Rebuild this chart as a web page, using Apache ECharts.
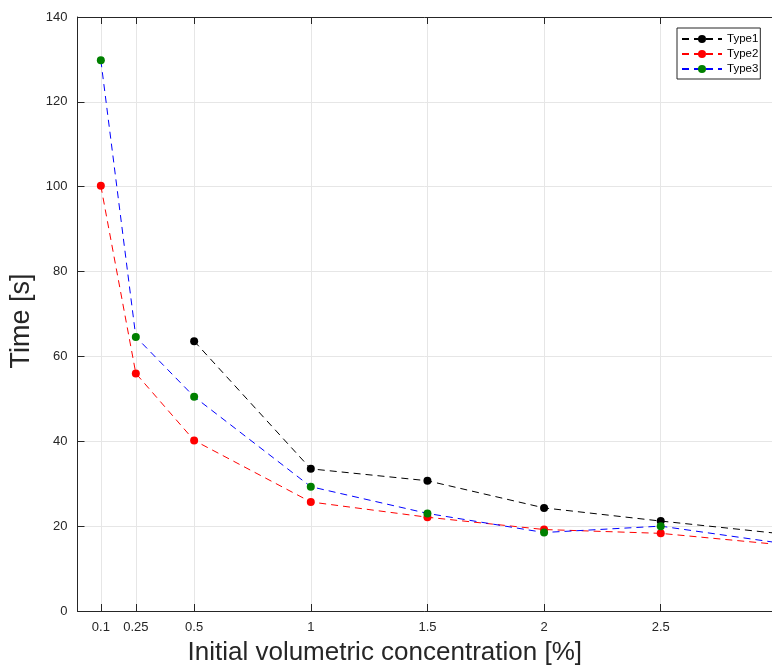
<!DOCTYPE html>
<html>
<head>
<meta charset="utf-8">
<script src="https://cdn.jsdelivr.net/npm/echarts@6/dist/echarts.min.js"></script>
<style>html,body{margin:0;padding:0;background:#fff}#c{width:772px;height:666px}</style>
</head>
<body>
<div id="c"></div>
<script>
var xValues = [0.1, 0.25, 0.5, 1, 1.5, 2, 2.5, 3];
var type1 = [null, null, 63.6, 33.5, 30.7, 24.3, 21.2, 18.3];
var type2 = [100.2, 56.0, 40.2, 25.7, 22.1, 19.2, 18.3, 15.7];
var type3 = [129.8, 64.6, 50.5, 29.3, 23.0, 18.5, 20.0, 16.1];
var xTicks = [0.1, 0.25, 0.5, 1, 1.5, 2, 2.5];
var seriesNames = ['Type1', 'Type2', 'Type3'];

function pairs(ys) {
  var out = [];
  for (var i = 0; i < xValues.length; i++) {
    if (ys[i] !== null) out.push([xValues[i], ys[i]]);
  }
  return out;
}

var FONT = 'Liberation Sans';
var AX = '#262626';
var XMAX = 2.977;

var chart = echarts.init(document.getElementById('c'), null, {renderer: 'canvas'});
function mk(name, ys, lineColor, markColor) {
  return {
    name: name, type: 'line', data: pairs(ys),
    symbol: 'circle', symbolSize: 8, clip: true,
    lineStyle: {color: lineColor, width: 1, type: [7, 5]},
    itemStyle: {color: markColor},
    emphasis: {disabled: true}, animation: false
  };
}
chart.setOption({
  animation: false,
  grid: {left: 77.5, right: 0, top: 17, bottom: 55, containLabel: false, outerBoundsMode: 'none'},
  legend: {
    orient: 'vertical', left: 677, top: 28,
    data: seriesNames,
    backgroundColor: '#fff', borderColor: AX, borderWidth: 1,
    padding: [5, 2, 4, 4], itemGap: 3, itemWidth: 40, itemHeight: 10,
    textStyle: {fontFamily: FONT, fontSize: 11.5, color: '#000'}
  },
  xAxis: [{
    type: 'value', min: 0, max: XMAX,
    name: 'Initial volumetric concentration [%]', nameLocation: 'middle', nameGap: 29,
    nameTextStyle: {fontFamily: FONT, fontSize: 26, color: AX, padding: [0, 80, 0, 0]},
    axisLine: {show: true, lineStyle: {color: AX, width: 1}},
    axisTick: {show: true, inside: true, length: 7, customValues: xTicks, lineStyle: {color: AX}},
    axisLabel: {customValues: xTicks, fontFamily: FONT, fontSize: 13, color: AX, margin: 10},
    splitLine: {show: true, lineStyle: {color: '#e6e6e6', width: 1}}
  }, {
    type: 'value', min: 0, max: XMAX, position: 'top',
    axisLine: {show: true, onZero: false, lineStyle: {color: AX, width: 1}},
    axisTick: {show: true, inside: true, length: 7, customValues: xTicks, lineStyle: {color: AX}},
    axisLabel: {show: false},
    splitLine: {show: false}
  }],
  yAxis: [{
    type: 'value', min: 0, max: 140, interval: 20,
    name: 'Time [s]', nameLocation: 'middle', nameGap: 29, nameRotate: 90,
    nameTextStyle: {fontFamily: FONT, fontSize: 27, color: AX, padding: [0, 14, 0, 0]},
    axisLine: {show: true, lineStyle: {color: AX, width: 1}},
    axisTick: {show: true, inside: true, length: 7, lineStyle: {color: AX}},
    axisLabel: {fontFamily: FONT, fontSize: 13, color: AX, margin: 10},
    splitLine: {show: true, lineStyle: {color: '#e6e6e6', width: 1}}
  }],
  series: [
    mk('Type1', type1, '#000000', '#000000'),
    mk('Type2', type2, '#ff0000', '#ff0000'),
    mk('Type3', type3, '#0000ff', '#008000')
  ]
});
</script>
</body>
</html>
